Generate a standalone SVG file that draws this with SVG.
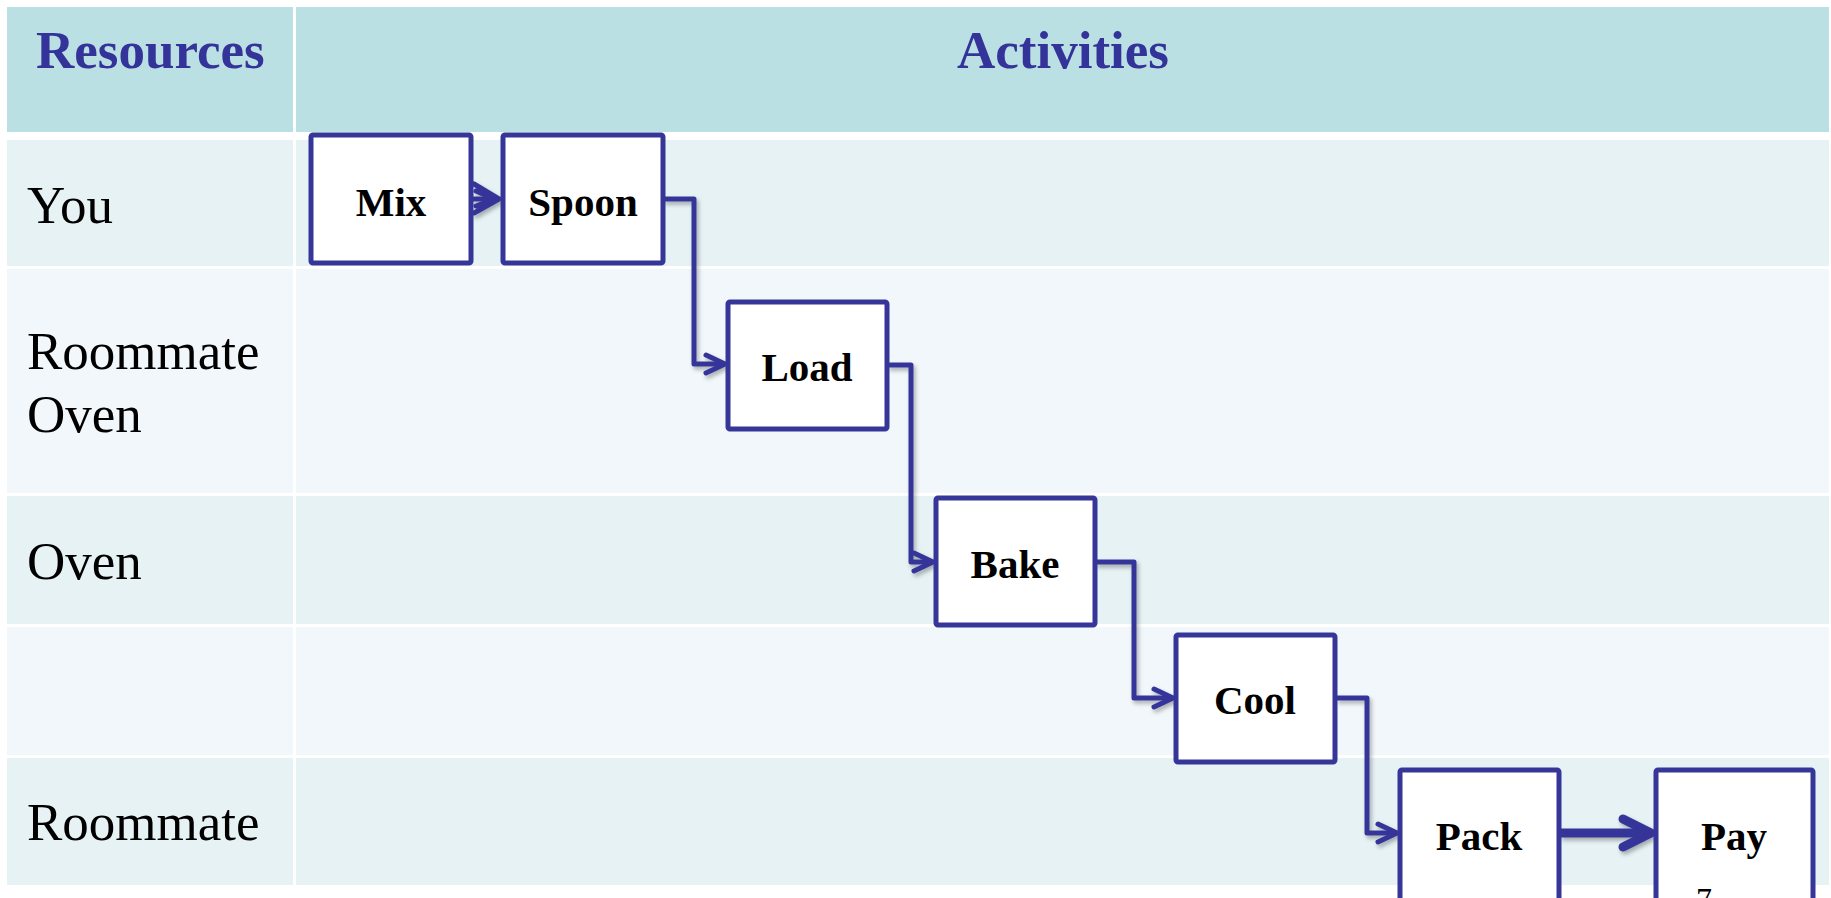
<svg xmlns="http://www.w3.org/2000/svg" width="1831" height="898" viewBox="0 0 1831 898">
  <style>
    .hdr { fill: #BBE0E3; }
    .rowA { fill: #E7F2F4; }
    .rowB { fill: #F1F7FA; }
    .htxt { font-family: "Liberation Serif", "Times New Roman", serif; font-weight: bold; font-size: 53px; fill: #333399; }
    .ltxt { font-family: "Liberation Serif", "Times New Roman", serif; font-size: 53px; fill: #000; }
    .box { fill: #fff; stroke: #363699; stroke-width: 5; }
    .ntxt { font-family: "Liberation Serif", "Times New Roman", serif; font-weight: bold; font-size: 41px; fill: #000; text-anchor: middle; }
    .conn { fill: none; stroke: #363699; stroke-width: 5; stroke-linejoin: round; }
    .head { fill: none; stroke: #363699; stroke-width: 5; stroke-linecap: round; stroke-linejoin: round; }
  </style>
  <defs>
    <filter id="sh" x="-20%" y="-20%" width="140%" height="140%">
      <feDropShadow dx="2" dy="3" stdDeviation="2" flood-color="#000" flood-opacity="0.3"/>
    </filter>
  </defs>
  <rect width="1831" height="898" fill="#fff"/>
  <g id="table">
    <rect class="hdr" x="7" y="7" width="286" height="125"/>
    <rect class="hdr" x="296" y="7" width="1533" height="125"/>
    <rect class="rowA" x="7" y="140" width="286" height="126"/>
    <rect class="rowA" x="296" y="140" width="1533" height="126"/>
    <rect class="rowB" x="7" y="269" width="286" height="224"/>
    <rect class="rowB" x="296" y="269" width="1533" height="224"/>
    <rect class="rowA" x="7" y="496" width="286" height="128"/>
    <rect class="rowA" x="296" y="496" width="1533" height="128"/>
    <rect class="rowB" x="7" y="627" width="286" height="128"/>
    <rect class="rowB" x="296" y="627" width="1533" height="128"/>
    <rect class="rowA" x="7" y="758" width="286" height="127"/>
    <rect class="rowA" x="296" y="758" width="1533" height="127"/>
    <text class="htxt" x="36" y="68">Resources</text>
    <text class="htxt" x="1063" y="68" text-anchor="middle">Activities</text>
    <text class="ltxt" x="27" y="223">You</text>
    <text class="ltxt" x="27" y="369">Roommate</text>
    <text class="ltxt" x="27" y="432">Oven</text>
    <text class="ltxt" x="27" y="579">Oven</text>
    <text class="ltxt" x="27" y="840">Roommate</text>
  </g>
  <g id="connectors" filter="url(#sh)">
    <path class="conn" d="M472,199 H498"/>
    <path class="head" d="M474,184 L499,199 L474,213 M476,191 L494,199 L476,206"/>
    <path class="conn" d="M663,199 H694 V364 H725"/>
    <path class="head" d="M706,355 L725,364 L706,373"/>
    <path class="conn" d="M887,365 H911 V562 H933"/>
    <path class="head" d="M914,553 L933,562 L914,571"/>
    <path class="conn" d="M1095,562 H1134 V698 H1173"/>
    <path class="head" d="M1154,689 L1173,698 L1154,707"/>
    <path class="conn" d="M1336,698 H1367 V833 H1397"/>
    <path class="head" d="M1378,824 L1397,833 L1378,842"/>
    <path class="conn" d="M1560,833 H1648" style="stroke-width:9"/>
    <path class="head" d="M1623,819 L1651,833 L1623,847" style="stroke-width:9"/>
  </g>
  <g id="node-mix">
    <rect class="box" x="311" y="135" width="160" height="128" rx="2"/>
    <text class="ntxt" x="391" y="216">Mix</text>
  </g>
  <g id="node-spoon">
    <rect class="box" x="503" y="135" width="160" height="128" rx="2"/>
    <text class="ntxt" x="583" y="216">Spoon</text>
  </g>
  <g id="node-load">
    <rect class="box" x="728" y="302" width="159" height="127" rx="2"/>
    <text class="ntxt" x="807" y="381">Load</text>
  </g>
  <g id="node-bake">
    <rect class="box" x="936" y="498" width="159" height="127" rx="2"/>
    <text class="ntxt" x="1015" y="578">Bake</text>
  </g>
  <g id="node-cool">
    <rect class="box" x="1176" y="635" width="159" height="127" rx="2"/>
    <text class="ntxt" x="1255" y="714">Cool</text>
  </g>
  <g id="node-pack">
    <rect class="box" x="1400" y="770" width="159" height="140" rx="2"/>
    <text class="ntxt" x="1479" y="850">Pack</text>
  </g>
  <g id="node-pay">
    <rect class="box" x="1656" y="770" width="157" height="140" rx="2"/>
    <text class="ntxt" x="1734" y="850">Pay</text>
  </g>
  <text x="1696" y="910" style="font-family:'Liberation Serif','Times New Roman',serif;font-size:32px;fill:#000">7</text>
</svg>
